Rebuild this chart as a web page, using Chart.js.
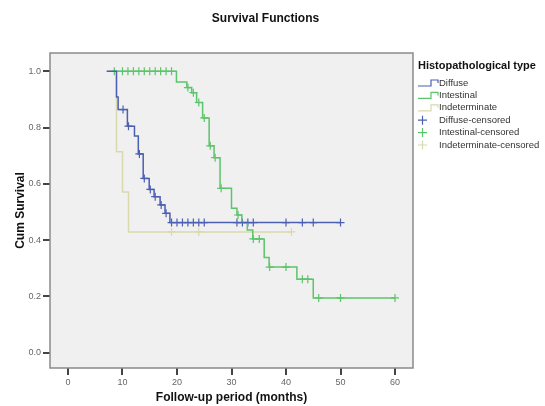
<!DOCTYPE html>
<html>
<head>
<meta charset="utf-8">
<script src="https://cdn.jsdelivr.net/npm/chart.js@4.4.1/dist/chart.umd.min.js"></script>
<style>
  html, body { margin: 0; padding: 0; background: #fff; }
  #wrap { width: 545px; height: 406px; }
</style>
</head>
<body>
<div id="wrap"><canvas id="chart" width="545" height="406"></canvas></div>
<script>
// Kaplan-Meier steps: time (months) and survival after the step
const DIFFUSE_T = [7.1, 8.9, 9.2, 10.9, 12.2, 12.9, 13.8, 14.9, 15.8, 16.9, 17.8, 18.7, 50]
const DIFFUSE_S = [1.0, 0.909, 0.864, 0.805, 0.77, 0.706, 0.619, 0.58, 0.554, 0.525, 0.495, 0.462, 0.462]
const DIFFUSE_CENSORED = [10.1, 11.1, 13.1, 14.0, 15.1, 16.0, 17.1, 18.0, 19, 20, 21, 22, 23, 24, 25, 31, 32, 33, 34, 40, 43, 45, 50]

const INTESTINAL_T = [8.0, 19.9, 21.8, 22.7, 23.6, 24.7, 25.9, 26.8, 27.9, 30.0, 31.0, 31.9, 32.9, 33.9, 36.0, 36.9, 42.0, 45.0, 60]
const INTESTINAL_S = [1.0, 0.962, 0.942, 0.924, 0.889, 0.834, 0.735, 0.693, 0.584, 0.513, 0.489, 0.462, 0.436, 0.404, 0.338, 0.304, 0.261, 0.194, 0.194]
const INTESTINAL_CENSORED = [8.5, 10, 11, 12, 13, 14, 15, 16, 17, 18, 19, 22, 23, 24, 25, 26.1, 27, 28.1, 31.2, 34, 35.1, 37, 40, 43, 44, 46, 50, 60]

const INDETERMINATE_T = [7.1, 8.9, 10.0, 11.1, 41]
const INDETERMINATE_S = [1.0, 0.714, 0.571, 0.429, 0.429]
const INDETERMINATE_CENSORED = [19, 24, 41]

const GROUPS = ['Diffuse', 'Intestinal', 'Indeterminate']
const COLORS = ['#4b5fb3', '#5cc46a', '#d9d9ae']
const X_TICKS = [0, 10, 20, 30, 40, 50, 60]
const Y_TICKS = [0, 0.2, 0.4, 0.6, 0.8, 1.0]

const FONT = '"Liberation Sans", Arial, sans-serif'

// Helpers

function steps(times, values) {
	return times.map((t, i) => ({ x: t, y: values[i] }))
}

function survivalAt(times, values, t) {
	let s = values[0]
	for (let i = 0; i < times.length; i++) {
		if (times[i] <= t) s = values[i]
	}
	return s
}

function censored(times, values, marks) {
	return marks.map(t => ({ x: t, y: survivalAt(times, values, t) }))
}

const series = [
	[DIFFUSE_T, DIFFUSE_S, DIFFUSE_CENSORED],
	[INTESTINAL_T, INTESTINAL_S, INTESTINAL_CENSORED],
	[INDETERMINATE_T, INDETERMINATE_S, INDETERMINATE_CENSORED],
]

const datasets = []
series.forEach(function(s, i) {
	datasets.push({
		label: GROUPS[i],
		data: steps(s[0], s[1]),
		borderColor: COLORS[i],
		borderWidth: 1.5,
		stepped: 'before',
		pointRadius: 0,
		fill: false,
	})
})
series.forEach(function(s, i) {
	datasets.push({
		label: GROUPS[i] + '-censored',
		data: censored(s[0], s[1], s[2]),
		borderColor: COLORS[i],
		showLine: false,
		pointStyle: 'cross',
		pointRadius: 4,
		pointBorderWidth: 1.2,
	})
})

// Plot background and frame, SPSS style
const framePlugin = {
	id: 'frame',
	beforeDraw(chart) {
		const { ctx, chartArea: a } = chart
		ctx.save()
		ctx.fillStyle = '#f0f0f0'
		ctx.fillRect(a.left, a.top, a.right - a.left, a.bottom - a.top)
		ctx.restore()
	},
	afterDraw(chart) {
		const { ctx, chartArea: a } = chart
		ctx.save()
		ctx.strokeStyle = '#8a8a8a'
		ctx.lineWidth = 1.5
		ctx.strokeRect(a.left, a.top, a.right - a.left, a.bottom - a.top)
		ctx.restore()
	}
}

// Legend to the right of the plot
const legendPlugin = {
	id: 'kmLegend',
	afterDraw(chart) {
		const ctx = chart.ctx
		const x0 = chart.chartArea.right + 5
		ctx.save()
		ctx.textBaseline = 'middle'
		ctx.fillStyle = '#111'
		ctx.font = 'bold 11px ' + FONT
		ctx.fillText('Histopathological type', x0, 66)
		ctx.font = '9.5px ' + FONT
		chart.data.datasets.forEach(function(d, i) {
			const y = 83 + i * 12.4
			ctx.strokeStyle = d.borderColor
			ctx.lineWidth = 1.2
			ctx.beginPath()
			if (d.showLine === false) {
				ctx.moveTo(x0 + 0, y); ctx.lineTo(x0 + 9, y)
				ctx.moveTo(x0 + 4.5, y - 4.5); ctx.lineTo(x0 + 4.5, y + 4.5)
			} else {
				ctx.moveTo(x0, y + 3); ctx.lineTo(x0 + 13, y + 3)
				ctx.lineTo(x0 + 13, y - 3); ctx.lineTo(x0 + 20, y - 3)
				ctx.lineTo(x0 + 20, y)
			}
			ctx.stroke()
			ctx.fillStyle = '#333'
			ctx.fillText(d.label, x0 + 21, y)
		})
		ctx.restore()
	}
}

new Chart(document.getElementById('chart'), {
	type: 'line',
	data: { datasets: datasets },
	plugins: [framePlugin, legendPlugin],
	options: {
		responsive: false,
		animation: false,
		layout: { padding: { left: 0, right: 14, top: 0, bottom: 0 } },
		plugins: {
			legend: { display: false },
			tooltip: { enabled: false },
			title: {
				display: true,
				text: 'Survival Functions',
				color: '#111',
				font: { family: FONT, size: 12, weight: 'bold' },
				padding: { top: 11, bottom: 27.6 },
			},
		},
		scales: {
			x: {
				type: 'linear',
				min: -3.3,
				max: 63.3,
				afterBuildTicks: s => { s.ticks = X_TICKS.map(v => ({ value: v })) },
				afterFit: s => { s.height = 38 },
				border: { display: false },
				grid: { drawOnChartArea: false, drawTicks: true, tickLength: 7, tickColor: '#444', lineWidth: 2 },
				ticks: { color: '#666', font: { family: FONT, size: 9 }, padding: 2, maxRotation: 0 },
				title: {
					display: true,
					text: 'Follow-up period (months)',
					color: '#111',
					font: { family: FONT, size: 12, weight: 'bold' },
					padding: { top: 0, bottom: 1.5 },
				},
			},
			y: {
				min: -0.055,
				max: 1.065,
				afterBuildTicks: s => { s.ticks = Y_TICKS.map(v => ({ value: v })) },
				afterFit: s => { s.width = 50 },
				border: { display: false },
				grid: { drawOnChartArea: false, drawTicks: true, tickLength: 7, tickColor: '#444', lineWidth: 2 },
				ticks: { color: '#666', font: { family: FONT, size: 9 }, padding: 2, callback: v => v.toFixed(1) },
				title: {
					display: true,
					text: 'Cum Survival',
					color: '#111',
					font: { family: FONT, size: 12, weight: 'bold' },
					padding: { top: 13, bottom: 0 },
				},
			},
			// empty axis that only reserves room for the legend
			legendSpace: {
				type: 'linear',
				position: 'right',
				afterFit: s => { s.width = 118 },
				border: { display: false },
				grid: { display: false },
				ticks: { display: false },
			},
		},
	},
})
</script>
</body>
</html>
